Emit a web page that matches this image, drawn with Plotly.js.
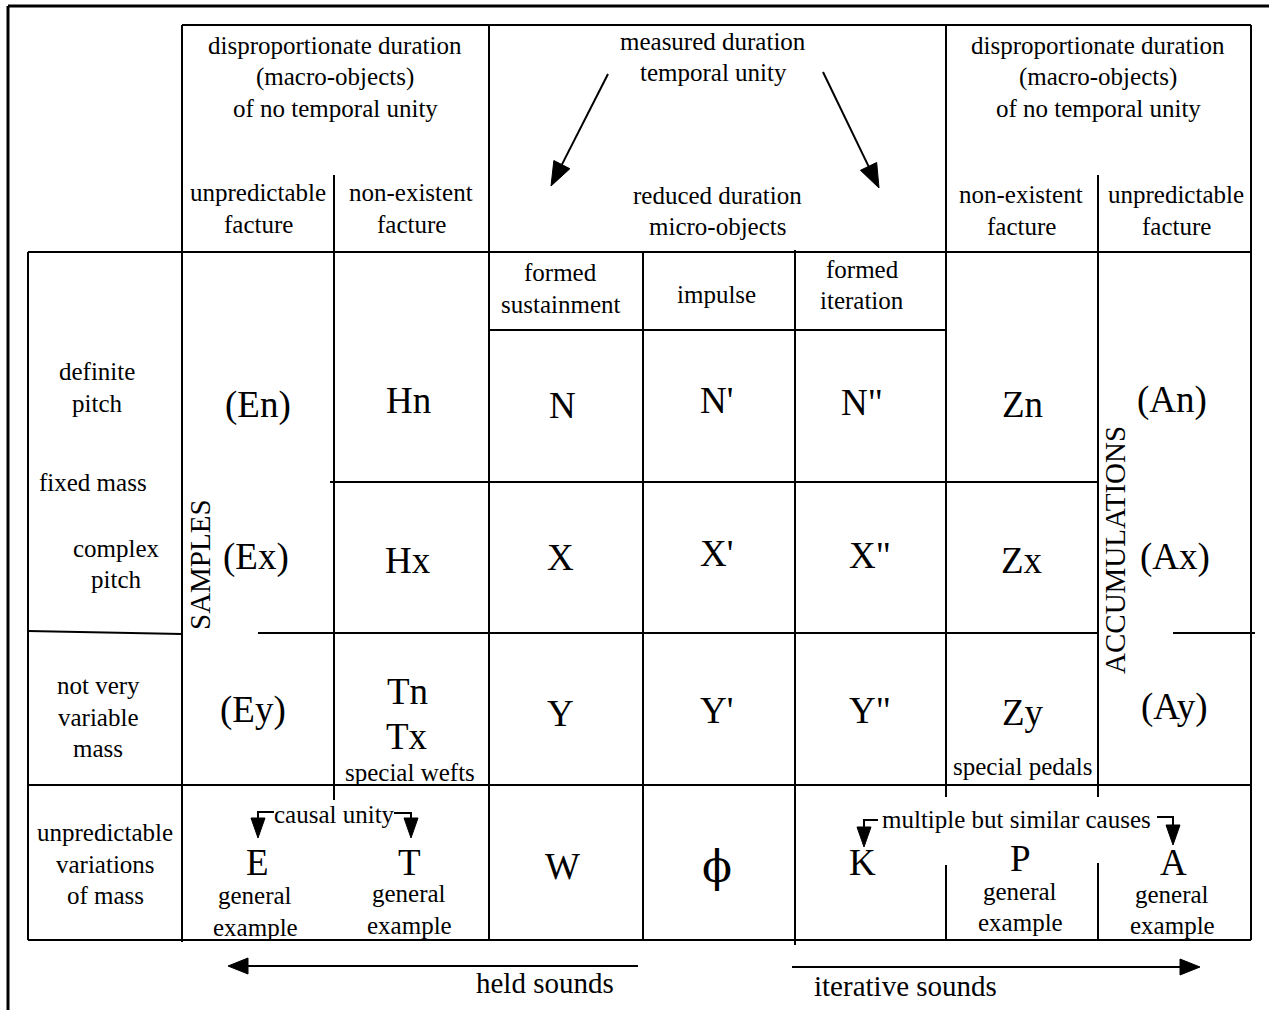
<!DOCTYPE html>
<html>
<head>
<meta charset="utf-8">
<script src="https://cdn.plot.ly/plotly-3.0.1.min.js"></script>
<style>html,body{margin:0;padding:0;background:#fff;}#chart{width:1269px;height:1010px;}</style>
</head>
<body>
<div id="chart"></div>
<script>
// ---------- content (text of the typology table) ----------
const topGroupLabels = ["disproportionate duration\n(macro-objects)\nof no temporal unity",
                        "measured duration\ntemporal unity",
                        "reduced duration\nmicro-objects",
                        "disproportionate duration\n(macro-objects)\nof no temporal unity"];
const factureLabels = ["unpredictable\nfacture", "non-existent\nfacture", "non-existent\nfacture", "unpredictable\nfacture"];
const microLabels = ["formed\nsustainment", "impulse", "formed\niteration"];
const rowLabels = ["definite\npitch", "fixed mass", "complex\npitch", "not very\nvariable\nmass", "unpredictable\nvariations\nof mass"];
const cellsN = ["(En)", "Hn", "N", "N'", "N\"", "Zn", "(An)"];
const cellsX = ["(Ex)", "Hx", "X", "X'", "X\"", "Zx", "(Ax)"];
const cellsY = ["(Ey)", "Tn\nTx", "Y", "Y'", "Y\"", "Zy", "(Ay)"];
const cellsW = ["E", "T", "W", "\u03D5", "K", "P", "A"];
const cellNotes = ["special wefts", "special pedals"];
const exampleNote = "general\nexample";
const sideLabels = ["SAMPLES", "ACCUMULATIONS"];
const causeLabels = ["causal unity", "multiple but similar causes"];
const soundLabels = ["held sounds", "iterative sounds"];

// ---------- geometry ----------
const colX = [28, 182, 334, 489, 643, 795, 946, 1098, 1251];
const rowY = [25, 175, 252, 330, 482, 633, 785, 940];
const cellCX = {N: [258, 408, 562, 716, 862, 1022, 1172],
                X: [256, 408, 560, 716, 870, 1022, 1175],
                Y: [253, 407, 560, 716, 870, 1023, 1174],
                W: [257, 409, 562, 717, 862, 1020, 1173]};
const cellCY = {N: [405, 400, 405, 400, 402, 404, 400],
                X: [557, 560, 557, 553, 555, 560, 557],
                Y: [710, 714, 713, 710, 710, 712, 707],
                W: [862, 862, 866, 866, 862, 858, 862]};

const SERIF = "Liberation Serif, Times New Roman, serif";
const annotations = [];
const shapes = [];

function txt(text, x, y, size, gap, extra, family) {
  const lines = text.split("\n");
  const n = lines.length;
  lines.forEach((ln, i) => {
    annotations.push(Object.assign({
      text: ln, x: x, y: y + (i - (n - 1) / 2) * gap, xref: "x", yref: "y",
      showarrow: false, xanchor: "center", yanchor: "middle",
      font: {family: family || SERIF, size: size, color: "#000"}
    }, extra || {}));
  });
}
function seg(x0, y0, x1, y1, w) {
  shapes.push({type: "line", xref: "x", yref: "y", x0: x0, y0: y0, x1: x1, y1: y1,
               line: {color: "#000", width: w || 2}});
}
function head(tx, ty, fx, fy, len, half) {
  const dx = tx - fx, dy = ty - fy, L = Math.hypot(dx, dy);
  const ux = dx / L, uy = dy / L;
  const bx = tx - ux * len, by = ty - uy * len;
  const px = -uy * half, py = ux * half;
  shapes.push({type: "path", xref: "x", yref: "y",
    path: `M${tx},${ty} L${bx + px},${by + py} L${bx - px},${by - py} Z`,
    fillcolor: "#000", line: {color: "#000", width: 1}});
}
function arrow(fx, fy, tx, ty, len, half, w) {
  const dx = tx - fx, dy = ty - fy, L = Math.hypot(dx, dy);
  seg(fx, fy, tx - dx / L * (len - 2), ty - dy / L * (len - 2), w);
  head(tx, ty, fx, fy, len, half);
}

// outer frame
seg(8, 6, 1269, 6, 3);
seg(8, 6, 8, 1010, 3);

// horizontal rules
seg(colX[1], rowY[0], colX[8], rowY[0]);
seg(colX[0], rowY[2], colX[8], rowY[2]);
seg(colX[3], rowY[3], colX[6], rowY[3]);
seg(330, rowY[4], colX[7], rowY[4]);
seg(colX[0], rowY[5] - 2, colX[1], rowY[5] + 1);
seg(258, rowY[5], colX[7], rowY[5]);
seg(1173, rowY[5], 1255, rowY[5]);
seg(colX[0], rowY[6], colX[8], rowY[6]);
seg(colX[0], rowY[7], colX[8], rowY[7]);

// vertical rules
seg(colX[0], rowY[2], colX[0], rowY[7]);
seg(colX[1], rowY[0], colX[1], rowY[7] + 2);
seg(colX[2], rowY[1], colX[2], rowY[6] + 15);
seg(colX[3], rowY[0], colX[3], rowY[7]);
seg(colX[4], rowY[2], colX[4], rowY[7]);
seg(colX[5], rowY[2] - 2, colX[5], rowY[7] + 5);
seg(colX[6], rowY[0], colX[6], rowY[6] + 12);
seg(colX[6], 865, colX[6], rowY[7]);
seg(colX[7], rowY[1], colX[7], rowY[6] + 12);
seg(colX[7], 863, colX[7], rowY[7]);
seg(colX[8], rowY[0], colX[8], rowY[7]);

// header texts
txt(topGroupLabels[0], 335, 77, 25, 31.5);
txt(topGroupLabels[1], 713, 57, 25, 31.5);
txt(topGroupLabels[2], 717, 211, 25, 31.5);
txt(topGroupLabels[3], 1098, 77, 25, 31.5);
txt(factureLabels[0], 258, 208, 25, 32);
txt(factureLabels[1], 411, 208, 25, 32);
txt(factureLabels[2], 1021, 210, 25, 32);
txt(factureLabels[3], 1176, 210, 25, 32);
txt(microLabels[0], 560, 288, 25, 32);
txt(microLabels[1], 716, 294, 25, 32);
txt(microLabels[2], 862, 285, 25, 31);

// diagonal arrows from "temporal unity"
arrow(608, 74, 551, 186, 24, 9, 2);
arrow(823, 72, 879, 188, 24, 9, 2);

// row labels
txt(rowLabels[0], 97, 387, 25, 32);
txt(rowLabels[1], 93, 482, 25, 32);
txt(rowLabels[2], 116, 564, 25, 31);
txt(rowLabels[3], 98, 717, 25, 31.5);
txt(rowLabels[4], 105, 864, 25, 31.5);

// cells
[["N", cellsN], ["X", cellsX], ["Y", cellsY], ["W", cellsW]].forEach(([k, arr]) => {
  arr.forEach((t, i) => {
    if (t === "\u03D5") {
      txt(t, cellCX[k][i], cellCY[k][i], 44, 45, null, "DejaVu Serif, serif");
    } else {
      txt(t, cellCX[k][i], cellCY[k][i], 37, 45);
    }
  });
});
txt(cellNotes[0], 410, 772, 25, 30);
txt(cellNotes[1], 1023, 766, 25, 30);
txt(exampleNote, 255, 911, 25, 32);
txt(exampleNote, 409, 909, 25, 32);
txt(exampleNote, 1020, 907, 25, 31);
txt(exampleNote, 1172, 910, 25, 31);

// vertical side labels
txt(sideLabels[0], 200, 565, 29, 30, {textangle: -90});
txt(sideLabels[1], 1115, 550, 29, 30, {textangle: -90});

// causal brackets
txt(causeLabels[0], 334, 814, 25, 30);
shapes.push({type: "path", xref: "x", yref: "y", path: "M274,812 L258,812 L258,822", line: {color: "#000", width: 2}});
head(258, 838, 258, 812, 20, 7);
shapes.push({type: "path", xref: "x", yref: "y", path: "M394,813 L411,813 L411,822", line: {color: "#000", width: 2}});
head(411, 838, 411, 813, 20, 7);

txt(causeLabels[1], 1016, 819, 25, 30);
shapes.push({type: "path", xref: "x", yref: "y", path: "M878,820 L864,820 L864,830", line: {color: "#000", width: 2}});
head(864, 847, 864, 820, 20, 7);
shapes.push({type: "path", xref: "x", yref: "y", path: "M1157,817 L1173,817 L1173,828", line: {color: "#000", width: 2}});
head(1173, 845, 1173, 817, 20, 7);

// held / iterative sounds arrows
arrow(638, 966, 228, 966, 20, 8, 2);
arrow(792, 967, 1200, 967, 20, 8, 2);
txt(soundLabels[0], 545, 983, 29, 30);
txt(soundLabels[1], 905, 986, 29, 30);

const layout = {
  width: 1269, height: 1010,
  margin: {l: 0, r: 0, t: 0, b: 0, pad: 0},
  paper_bgcolor: "#fff", plot_bgcolor: "#fff",
  showlegend: false,
  xaxis: {range: [0, 1269], visible: false, fixedrange: true},
  yaxis: {range: [1010, 0], visible: false, fixedrange: true},
  annotations: annotations,
  shapes: shapes
};
Plotly.newPlot("chart", [{x: [], y: [], type: "scatter", hoverinfo: "skip"}], layout, {staticPlot: true, displayModeBar: false});
</script>
</body>
</html>
